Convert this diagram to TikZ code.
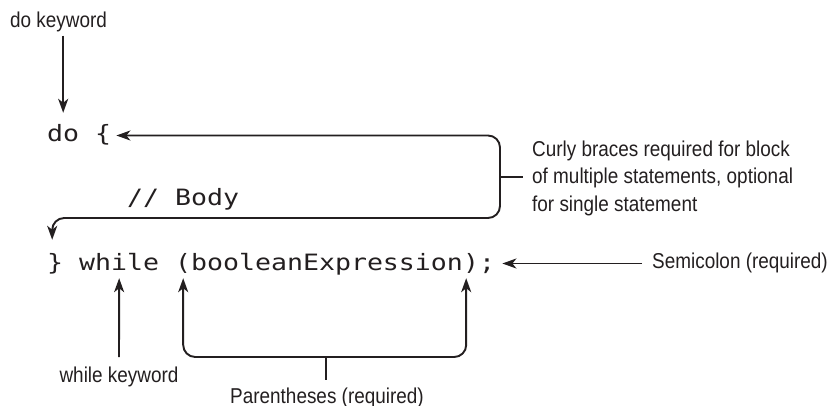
\documentclass[tikz,border=0pt]{standalone}
\usepackage{fontspec}
\setmonofont[FakeStretch=1.18]{DejaVu Sans Mono}
\newfontfamily\lblfont[FakeStretch=0.88]{Liberation Sans}
\usetikzlibrary{arrows.meta}
\definecolor{ink}{HTML}{231F20}
\tikzset{
  >={Stealth[length=14pt,width=10pt,inset=4pt]},
  code/.style={font=\ttfamily\fontsize{22.5}{22.5}\selectfont, text=ink, inner sep=0pt,
    anchor=base west, text height=17pt, text depth=4pt},
  lbl/.style={font=\lblfont\fontsize{21.5}{27.5}\selectfont, text=ink, inner sep=0pt},
  conn/.style={draw=ink, line width=1.9pt},
  arr/.style={conn, ->},
}

\begin{document}
\begin{tikzpicture}[x=1pt,y=-1pt]
\useasboundingbox (0,0) rectangle (830,406);

% Code, one mono cell is 16pt wide
\node[code] (dotok) at (47,142) {do};
\node[code] (obrace) at (95,142) {\{};
\node[code] (body) at (127,206) {// Body};
\foreach \nm/\cell/\txt in {cbrace/0/\}, whiletok/2/while, lpar/8/(, expr/9/booleanExpression, rpar/26/), semi/27/;}
  \node[code] (\nm) at (47+\cell*16,270) {\txt};

% Labels
\node[lbl, anchor=base] (dokw) at (58.5,28) {do keyword};
\node[lbl, anchor=west, align=left] (bracelbl) at (532,178)
  {Curly braces required for block\\of multiple statements, optional\\for single statement};
\node[lbl, anchor=west] (semilbl) at (652,263) {Semicolon (required)};
\node[lbl, anchor=base] (whilelbl) at (119,382) {while keyword};
\node[lbl, anchor=base] (parlbl) at (327,403) {Parentheses (required)};

\coordinate (bracemid) at (500,177);
\coordinate (parmid) at (326,357);

% Keyword arrows
\draw[arr, shorten <=3pt] (dokw.south -| dotok.north) -- ([yshift=12pt]dotok.north);
\draw[arr, shorten <=9pt] (whilelbl.north) -- ([yshift=-4pt]whiletok.south);

% Block braces
\draw[conn, <->, rounded corners=12pt] ([xshift=5pt]obrace.east) -| (500,218)
  -| ([xshift=-3pt, yshift=13pt]cbrace.north);
\draw[conn, shorten >=9pt] (bracemid) -- (bracemid -| bracelbl.west);

% Semicolon
\draw[arr, shorten <=10pt] (semilbl.west |- semi.east) -- ([xshift=7pt]semi.east);

% Parentheses
\draw[conn, <->, rounded corners=12pt] ([yshift=-4pt]lpar.south) |- (parmid)
  -| ([xshift=-5pt, yshift=-4pt]rpar.south);
\draw[conn, shorten >=7pt] (parmid) -- (parmid |- parlbl.north);
\end{tikzpicture}
\end{document}
